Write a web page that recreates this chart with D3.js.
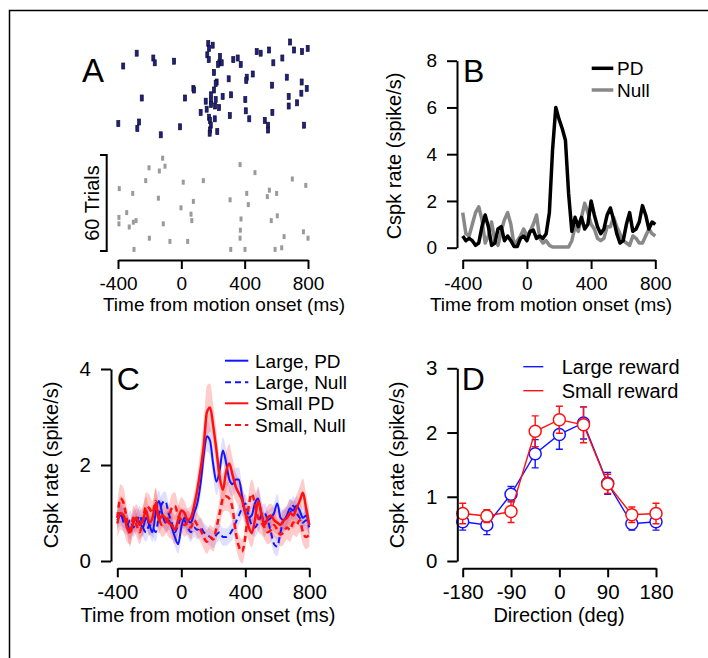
<!DOCTYPE html>
<html><head><meta charset="utf-8">
<script src="https://cdn.jsdelivr.net/npm/d3@7"></script>
<style>body{margin:0;background:#fff}svg{display:block}</style>
</head><body><svg id="c" width="708" height="658"></svg>
<script>
// ---------------- DATA ----------------
const binsMs = [-400,-380,-360,-340,-320,-300,-280,-260,-240,-220,
  -200,-180,-160,-140,-120,-100,-80,-60,-40,-20,
  0,20,40,60,80,100,120,140,160,180,
  200,220,240,260,280,300,320,340,360,380,
  400,420,440,460,480,500,520,540,560,580,
  600,620,640,660,680,700,720,740,760,780,800];

// Panel A raster: [time (ms), trial]
const rasterPD = [[-367,15],[-282,7],[-177,10],[-168,13],[-46,12],[-250,35],[-398,51],[-267,50],[-278,54],[-130,58],
  [-8,53],[23,35],[76,29],[80,30],[170,1],[198,2],[175,4],[164,8],[173,11],[244,9],[240,13],[255,13],[232,14],[206,19],
  [328,11],[356,10],[375,14],[476,6],[501,7],[554,5],[687,0],[712,5],[762,6],[798,4],[581,13],[638,10],[223,25],[217,26],
  [299,23],[413,22],[410,24],[451,20],[573,27],[666,22],[760,25],[792,29],[758,32],[678,34],[731,38],[678,40],[206,30],
  [187,33],[187,37],[217,36],[154,37],[261,34],[314,33],[404,36],[187,39],[213,40],[238,41],[160,42],[122,44],[175,47],
  [181,49],[211,48],[306,46],[407,43],[429,48],[575,44],[527,49],[548,52],[548,55],[775,52],[186,52],[181,55],[179,57],[227,56]];
const rasterNull = [[-118,2],[-103,7],[-204,8],[-139,10],[-225,16],[-392,21],[-307,24],[-145,27],[12,17],[139,16],
  [76,29],[-2,33],[-345,36],[-394,39],[-394,43],[-286,41],[-303,42],[-329,45],[-114,43],[61,37],[66,41],[-202,52],
  [-72,54],[40,54],[-299,59],[371,6],[465,11],[308,28],[413,24],[423,31],[377,40],[373,47],[371,52],[312,59],[402,59],
  [556,22],[543,26],[602,24],[701,15],[786,19],[606,38],[568,41],[771,48],[800,52],[649,51],[634,58],[592,59]];

// Panel B rates (spike/s)
const pdRateB = [0.5,0.3,0.4,0.3,0.1,0.2,0.9,1.4,0.9,0.1,
  0.2,0.8,0.9,0.3,0.5,0.3,0.05,0.05,0.4,0.5,
  0.3,0.7,0.75,0.4,0.5,0.4,0.6,1.5,4.2,6.0,
  5.5,5.1,4.6,2.3,0.7,1.3,0.9,1.3,0.8,1.0,
  2.0,1.4,0.9,0.6,0.8,1.4,1.7,1.2,0.6,0.2,
  0.3,1.0,1.5,0.7,0.8,1.1,1.8,1.4,0.8,1.1,1.0];
const nullRateB = [1.5,0.6,0.5,1.0,1.5,1.75,1.2,0.2,0.5,1.1,
  0.3,0.1,0.7,1.2,1.5,1.0,0.1,0.3,0.5,0.8,
  0.5,0.7,1.0,1.4,0.4,0.2,0.3,0.1,0.03,0.03,
  0.03,0.03,0.03,0.03,0.3,0.9,0.7,1.3,1.9,1.5,
  1.0,0.8,0.4,0.3,0.4,0.9,0.9,1.3,0.9,0.6,
  0.3,0.2,0.1,0.5,0.4,0.2,0.2,0.5,0.8,0.6,0.5];

// Panel C rates (spike/s) and SEM
const largePD = [0.85,0.95,0.9,0.8,0.65,0.8,0.9,0.8,0.7,0.9,
  0.75,0.6,1.0,1.25,1.0,0.8,0.85,0.7,0.5,0.35,
  0.7,0.9,0.85,0.8,1.0,1.2,1.6,2.2,2.6,2.5,
  2.0,1.65,1.9,2.3,2.05,1.7,1.6,1.7,1.7,1.35,
  1.0,0.9,0.95,1.2,1.3,1.0,0.8,0.85,0.9,1.0,
  1.2,0.9,0.85,0.95,1.1,1.05,1.15,1.05,0.9,0.95,0.75];
const largeNull = [0.9,1.0,0.8,0.75,0.85,0.7,0.8,0.95,0.7,0.6,
  0.75,0.7,0.6,0.95,1.2,1.25,1.0,0.8,0.6,0.75,
  0.9,0.85,0.7,0.6,0.7,0.65,0.7,0.6,0.55,0.5,
  0.45,0.55,0.6,0.5,0.5,0.55,0.65,0.8,0.95,1.1,
  1.2,0.95,0.75,0.7,0.8,0.95,1.0,0.85,0.6,0.35,
  0.3,0.6,0.85,0.9,1.0,1.15,1.0,0.9,0.8,0.85,0.7];
const smallPD = [0.78,1.0,0.95,0.7,0.6,0.8,0.9,0.75,0.85,1.05,
  0.8,0.9,1.2,0.85,0.95,0.9,0.8,0.75,0.65,0.85,
  1.05,1.0,0.85,0.9,1.15,1.48,1.9,2.4,3.1,3.2,
  2.8,2.3,1.75,1.48,1.86,2.03,1.8,1.55,1.41,1.27,
  1.0,0.72,0.58,0.85,1.25,1.0,0.75,0.9,0.95,0.85,
  0.8,0.75,0.85,0.9,1.0,0.95,1.1,1.25,1.42,1.1,0.75];
const smallNull = [0.9,1.3,1.2,0.85,0.55,0.9,0.75,0.6,0.85,1.15,
  1.1,1.0,1.25,0.9,0.75,0.8,0.9,1.1,1.15,0.95,
  0.85,0.75,0.8,0.7,0.85,0.75,0.65,0.5,0.4,0.5,
  0.45,0.7,1.0,1.3,1.35,1.3,1.1,0.6,0.3,0.2,
  0.5,1.1,1.4,1.2,0.9,0.8,0.7,0.6,0.65,0.75,
  0.65,0.55,0.6,0.7,0.65,0.8,0.75,0.85,0.6,0.5,0.55];
const semLargePD = [0.2,0.22,0.22,0.2,0.2,0.2,0.2,0.2,0.2,0.22,
  0.2,0.2,0.22,0.22,0.2,0.2,0.2,0.2,0.2,0.2,
  0.2,0.2,0.2,0.2,0.2,0.22,0.25,0.3,0.32,0.3,
  0.28,0.28,0.28,0.28,0.28,0.26,0.25,0.25,0.25,0.22,
  0.2,0.2,0.2,0.2,0.2,0.2,0.2,0.2,0.2,0.2,
  0.2,0.2,0.2,0.2,0.2,0.2,0.2,0.2,0.2,0.2,0.2];
const semLargeNull = [0.2,0.2,0.2,0.2,0.2,0.2,0.2,0.2,0.2,0.2,
  0.2,0.2,0.2,0.2,0.2,0.2,0.2,0.2,0.2,0.2,
  0.2,0.2,0.2,0.2,0.2,0.2,0.2,0.2,0.18,0.18,
  0.18,0.18,0.18,0.18,0.18,0.18,0.2,0.2,0.2,0.2,
  0.2,0.2,0.2,0.2,0.2,0.2,0.2,0.2,0.2,0.2,
  0.2,0.2,0.2,0.2,0.2,0.2,0.2,0.2,0.2,0.2,0.2];
const semSmallPD = [0.3,0.35,0.35,0.3,0.25,0.25,0.28,0.3,0.3,0.3,
  0.28,0.25,0.3,0.28,0.25,0.25,0.3,0.3,0.3,0.3,
  0.28,0.25,0.25,0.25,0.25,0.3,0.4,0.5,0.55,0.5,
  0.45,0.4,0.35,0.35,0.4,0.4,0.35,0.3,0.3,0.3,
  0.3,0.3,0.3,0.3,0.3,0.28,0.25,0.25,0.25,0.25,
  0.25,0.25,0.25,0.25,0.28,0.28,0.28,0.3,0.3,0.3,0.3];
const semSmallNull = [0.28,0.3,0.3,0.28,0.25,0.25,0.25,0.25,0.25,0.28,
  0.28,0.25,0.28,0.25,0.25,0.25,0.25,0.28,0.28,0.25,
  0.25,0.25,0.25,0.25,0.25,0.25,0.25,0.25,0.25,0.25,
  0.25,0.25,0.28,0.3,0.3,0.3,0.3,0.28,0.25,0.25,
  0.28,0.3,0.3,0.3,0.28,0.25,0.25,0.25,0.25,0.25,
  0.25,0.25,0.25,0.25,0.25,0.25,0.25,0.25,0.25,0.25,0.25];

// Panel D tuning
const directions = [-180,-135,-90,-45,0,45,90,135,180];
const largeMean = [0.61,0.56,1.04,1.67,1.97,2.15,1.21,0.58,0.61];
const largeSem  = [0.13,0.15,0.12,0.22,0.23,0.25,0.17,0.10,0.13];
const smallMean = [0.74,0.70,0.77,2.02,2.20,2.12,1.20,0.72,0.74];
const smallSem  = [0.16,0.10,0.17,0.24,0.21,0.28,0.15,0.12,0.16];

const timeTicks = [-400,0,400,800];
const rateTicksB = [0,2,4,6,8];
const rateTicksC = [0,2,4];
const rateTicksD = [0,1,2,3];
const dirTicks = [-180,-90,0,90,180];

// ---------------- DRAW ----------------
const FONT = '"Liberation Sans", Arial, Helvetica, sans-serif';
const BLUE = "#1414ff", RED = "#ff1010", GRAY = "#888888";
const svg = d3.select("#c");
svg.append("rect").attr("width",708).attr("height",658).attr("fill","#fff");
svg.append("path").attr("d","M9.5,658V10.5H708").attr("fill","none").attr("stroke","#000").attr("stroke-width",1.5);

function styleAxis(g, fs){
  g.attr("font-family", FONT).attr("font-size", fs);
  g.select(".domain").attr("stroke-width",2).attr("stroke","#000");
  g.selectAll(".tick line").attr("stroke-width",2).attr("stroke","#000");
  g.selectAll(".tick text").attr("fill","#000");
}
function xAxis(scale, y, ticks, fs, pad){
  const g = svg.append("g").attr("transform",`translate(0,${y})`)
    .call(d3.axisBottom(scale).tickValues(ticks).tickSize(9).tickSizeOuter(0).tickPadding(pad).tickFormat(d=>String(d)));
  styleAxis(g, fs);
}
function yAxis(scale, x, ticks, fs){
  const g = svg.append("g").attr("transform",`translate(${x},0)`)
    .call(d3.axisLeft(scale).tickValues(ticks).tickSize(10).tickSizeOuter(0).tickPadding(10).tickFormat(d=>String(d)));
  styleAxis(g, fs);
}
function label(txt, x, y, fs, opts={}){
  const t = svg.append("text").attr("font-family",FONT).attr("font-size",fs).attr("fill","#000").text(txt);
  if (opts.rotate){ t.attr("transform",`translate(${x},${y}) rotate(-90)`).attr("text-anchor","middle"); }
  else { t.attr("x",x).attr("y",y).attr("text-anchor",opts.anchor||"start"); }
  return t;
}

// ----- Panel A -----
const xA = d3.scaleLinear([-400,800],[118,308]);
const yA1 = d3.scaleLinear([0,60],[42,138]);
const yA2 = d3.scaleLinear([0,60],[155,251]);
svg.append("g").selectAll("rect").data(rasterPD).join("rect")
  .attr("x",d=>xA(d[0])-1.5).attr("y",d=>yA1(d[1])-3).attr("width",3).attr("height",6)
  .attr("fill","#1e1e8c").attr("stroke","#111122").attr("stroke-width",0.7);
svg.append("g").selectAll("rect").data(rasterNull).join("rect")
  .attr("x",d=>xA(d[0])-1.5).attr("y",d=>yA2(d[1])-2.5).attr("width",3).attr("height",5)
  .attr("fill","#9a9a9a");
// scale bar 60 trials
svg.append("path").attr("d",`M100,${yA2(0)}H106.7V${yA2(60)}H100`).attr("fill","none").attr("stroke","#000").attr("stroke-width",2);
label("60 Trials", 99.3, (yA2(0)+yA2(60))/2, 20, {rotate:true});
xAxis(xA, 260, timeTicks, 19, 7.5);
label("Time from motion onset (ms)", 224, 311, 19, {anchor:"middle"});
label("A", 82, 82, 33);

// ----- Panel B -----
const xB = d3.scaleLinear([-400,800],[462.7,655.3]);
const yB = d3.scaleLinear([0,8],[247.7,60.7]);
const lineB = d3.line().x((d,i)=>xB(binsMs[i])).y(d=>yB(d));
svg.append("path").datum(nullRateB).attr("d",lineB).attr("fill","none").attr("stroke",GRAY).attr("stroke-width",3.5).attr("stroke-linejoin","round");
svg.append("path").datum(pdRateB).attr("d",lineB).attr("fill","none").attr("stroke","#000").attr("stroke-width",3.5).attr("stroke-linejoin","round");
xAxis(xB, 260, timeTicks, 19, 7.5);
yAxis(yB, 457, rateTicksB, 19);
label("Time from motion onset (ms)", 551, 311, 19, {anchor:"middle"});
label("Cspk rate (spike/s)", 400.7, 156, 20, {rotate:true});
label("B", 463, 81.7, 32);
[["PD","#000",68.3],["Null",GRAY,90]].forEach(([t,c,y])=>{
  svg.append("line").attr("x1",591.7).attr("x2",613.3).attr("y1",y).attr("y2",y).attr("stroke",c).attr("stroke-width",3.5);
  label(t, 617, y+7, 19);
});

// ----- Panel C -----
const xC = d3.scaleLinear([-400,800],[117.3,309.3]);
const yC = d3.scaleLinear([0,4],[561,369]);
const curve = d3.curveMonotoneX;
function band(vals, sem, color, op){
  svg.append("path").datum(vals).attr("d", d3.area().curve(curve)
    .x((d,i)=>xC(binsMs[i])).y0((d,i)=>yC(d-sem[i])).y1((d,i)=>yC(d+sem[i])))
    .attr("fill",color).attr("fill-opacity",op).attr("stroke","none");
}
function lineC(vals, color, w, dash){
  const p = svg.append("path").datum(vals).attr("d", d3.line().curve(curve).x((d,i)=>xC(binsMs[i])).y(d=>yC(d)))
    .attr("fill","none").attr("stroke",color).attr("stroke-width",w);
  if (dash) p.attr("stroke-dasharray",dash);
}
band(largePD, semLargePD, "#5050ff", 0.18);
band(largeNull, semLargeNull, "#5050ff", 0.18);
band(smallPD, semSmallPD, "#ff3030", 0.25);
band(smallNull, semSmallNull, "#ff3030", 0.25);
lineC(largePD, BLUE, 2);
lineC(largeNull, BLUE, 2, "6,4");
lineC(smallPD, RED, 2.5);
lineC(smallNull, RED, 2.5, "6,4");
xAxis(xC, 568.3, timeTicks, 20.5, 7);
yAxis(yC, 111, rateTicksC, 20.5);
label("Time from motion onset (ms)", 208, 622, 20, {anchor:"middle"});
label("Cspk rate (spike/s)", 58.3, 465, 20, {rotate:true});
label("C", 116.7, 390, 32);
[["Large, PD",BLUE,null,360.7],["Large, Null",BLUE,"6,4",382.3],["Small PD",RED,null,403.3],["Small, Null",RED,"6,4",425]].forEach(([t,c,dash,y])=>{
  const l = svg.append("line").attr("x1",225).attr("x2",248.3).attr("y1",y).attr("y2",y).attr("stroke",c).attr("stroke-width",2);
  if (dash) l.attr("stroke-dasharray",dash);
  label(t, 255, y+7, 19);
});

// ----- Panel D -----
const xD = d3.scaleLinear([-180,180],[462.7,656]);
const yD = d3.scaleLinear([0,3],[561,368.3]);
function tuning(mean, sem, color){
  const g = svg.append("g");
  g.append("path").datum(mean).attr("d", d3.line().x((d,i)=>xD(directions[i])).y(d=>yD(d)))
    .attr("fill","none").attr("stroke",color).attr("stroke-width",1.4);
  const eb = g.selectAll("g.eb").data(mean).join("g");
  eb.append("path").attr("d",(d,i)=>{
      const x = xD(directions[i]), y0 = yD(d-sem[i]), y1 = yD(d+sem[i]);
      return `M${x},${y0}V${y1}M${x-3.5},${y0}H${x+3.5}M${x-3.5},${y1}H${x+3.5}`;
    }).attr("stroke",color).attr("stroke-width",1.4).attr("fill","none");
  g.selectAll("circle").data(mean).join("circle")
    .attr("cx",(d,i)=>xD(directions[i])).attr("cy",d=>yD(d)).attr("r",6)
    .attr("fill","#fff").attr("stroke",color).attr("stroke-width",1.5);
}
tuning(largeMean, largeSem, BLUE);
tuning(smallMean, smallSem, RED);
xAxis(xD, 568.3, dirTicks, 20.5, 7);
yAxis(yD, 457.3, rateTicksD, 20.5);
label("Direction (deg)", 559, 622, 20, {anchor:"middle"});
label("Cspk rate (spike/s)", 404, 465, 20, {rotate:true});
label("D", 461.7, 390, 32);
[["Large reward",BLUE,366.7],["Small reward",RED,390.7]].forEach(([t,c,y])=>{
  svg.append("line").attr("x1",523.3).attr("x2",543.3).attr("y1",y).attr("y2",y).attr("stroke",c).attr("stroke-width",1.4);
  label(t, 561.7, y+7, 20);
});
</script></body></html>
